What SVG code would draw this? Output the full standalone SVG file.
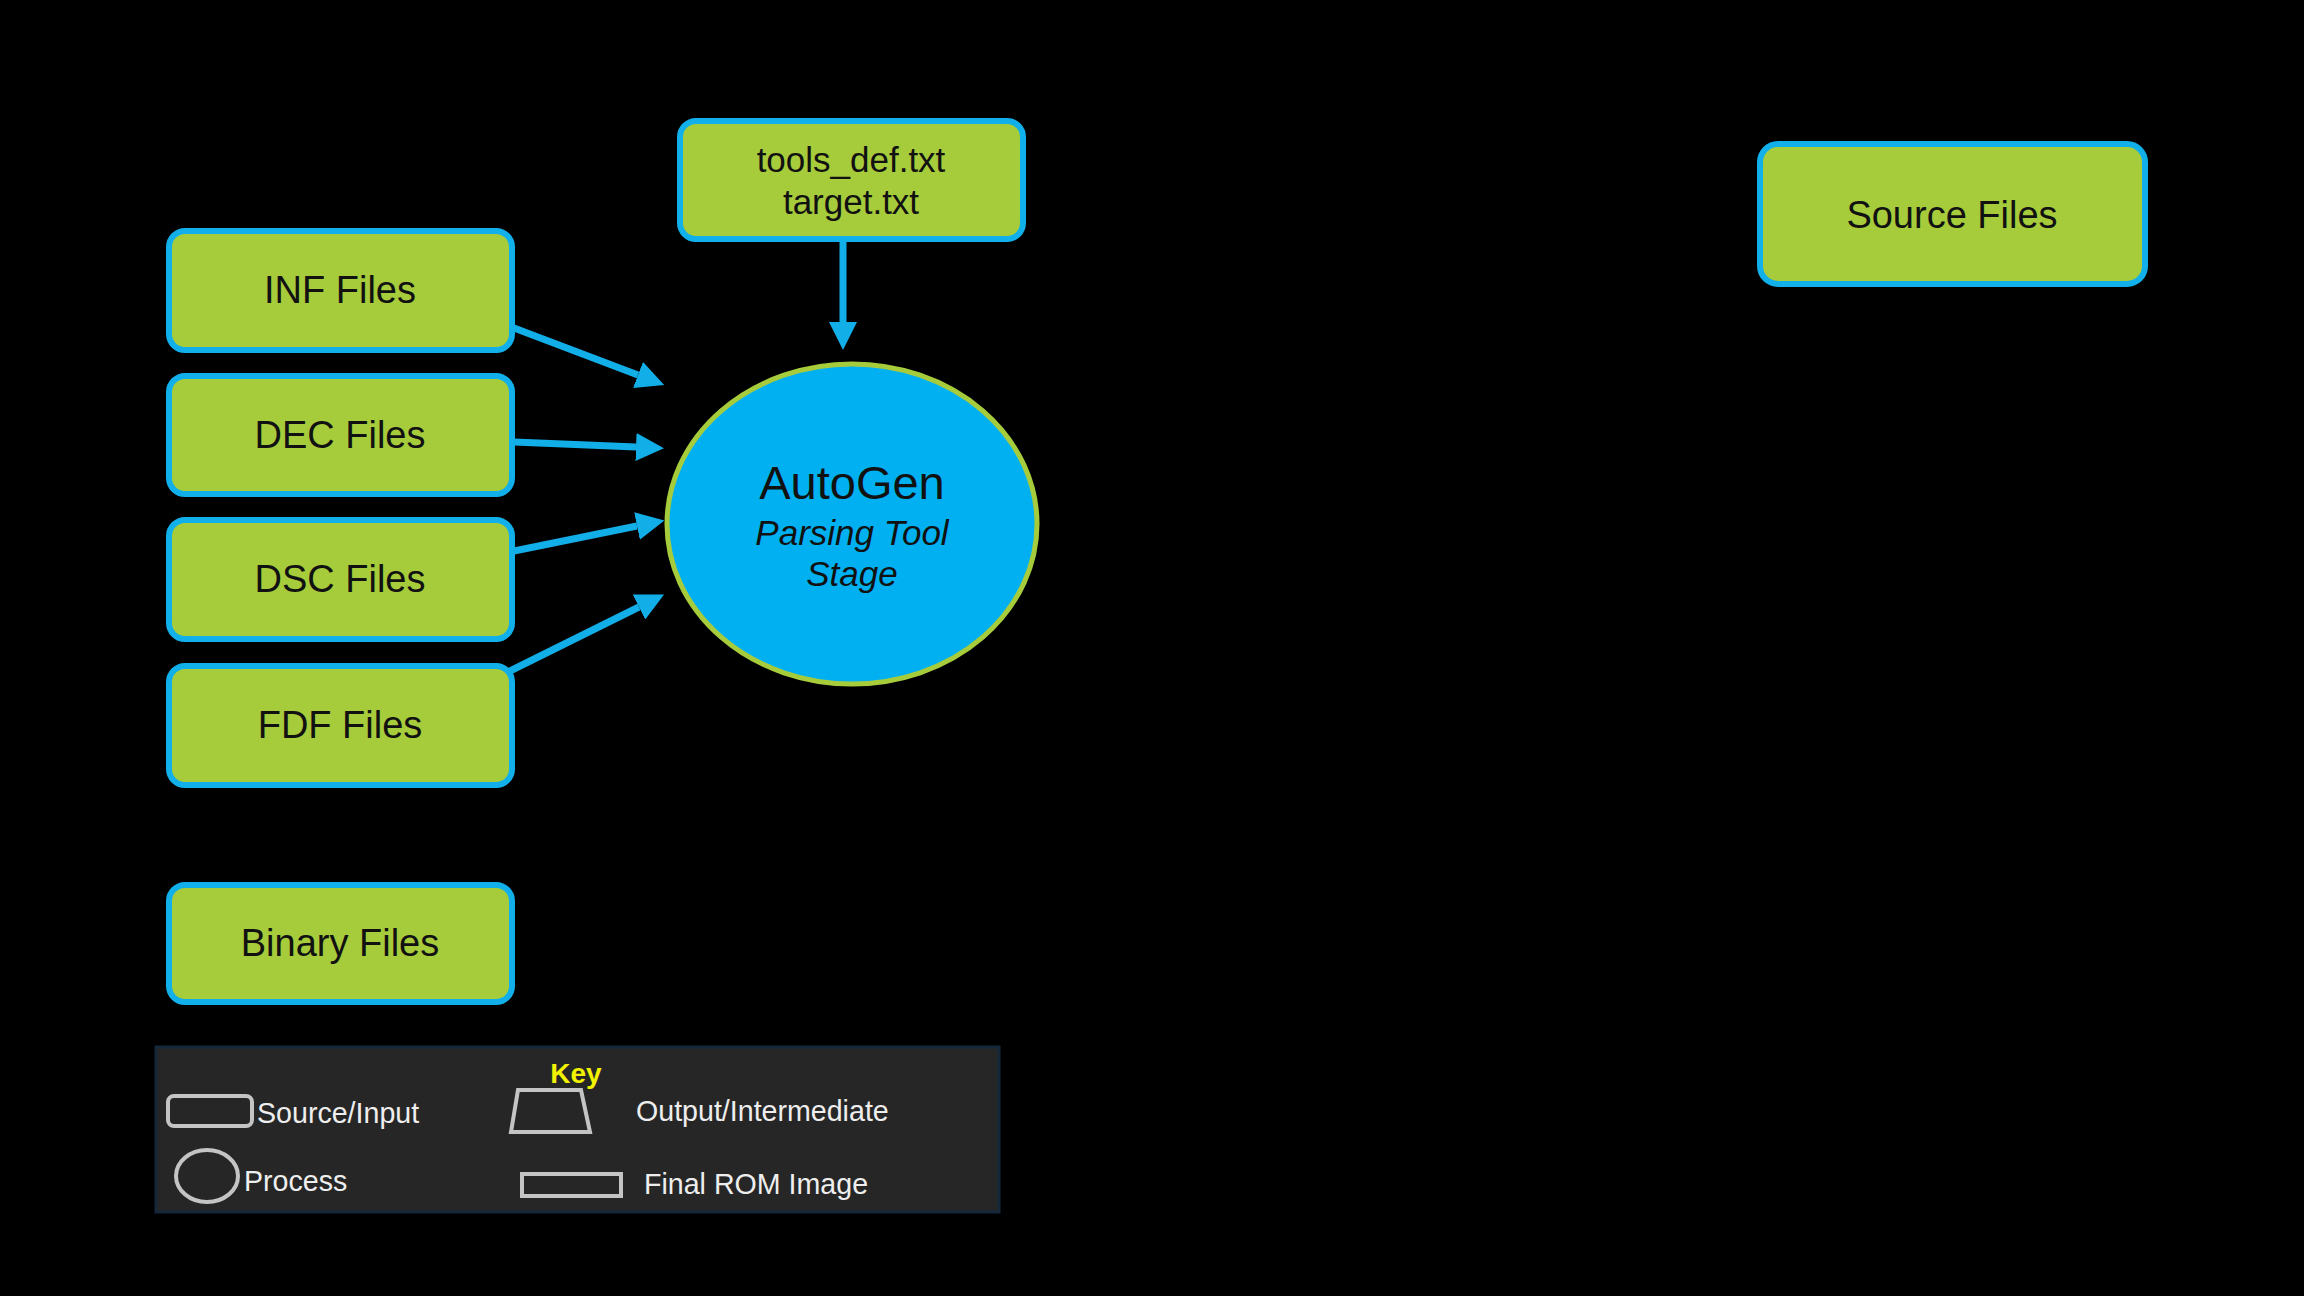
<svg xmlns="http://www.w3.org/2000/svg" width="2304" height="1296" viewBox="0 0 2304 1296">
<style>
.box{fill:#a6cb3b;stroke:#12b0ea;stroke-width:6}
.lbl{font-family:"Liberation Sans",Arial,sans-serif;font-size:38px;fill:#111;text-anchor:middle;dominant-baseline:central}
.conn{stroke:#12aee8;stroke-width:7;fill:none}
.key{font-family:"Liberation Sans",Arial,sans-serif;font-size:28.6px;fill:#eee;dominant-baseline:central}
.ks{fill:none;stroke:#c4c4c4;stroke-width:4}
</style>
<defs>
<marker id="ah" viewBox="0 0 10 10" refX="0" refY="5" markerWidth="4" markerHeight="4" orient="auto">
<path d="M0,0 L10,5 L0,10 z" fill="#12aee8"/>
</marker>
</defs>
<rect x="0" y="0" width="2304" height="1296" fill="#000"/>
<g id="tools">
<rect class="box" x="680" y="121" width="343" height="118" rx="16"/>
<text class="lbl" x="851" y="159" style="font-size:35px">tools_def.txt</text>
<text class="lbl" x="851" y="201" style="font-size:35px">target.txt</text>
</g>
<g id="inf">
<rect class="box" x="169" y="231" width="343" height="119" rx="16"/>
<text class="lbl" x="340" y="290">INF Files</text>
</g>
<g id="dec">
<rect class="box" x="169" y="376" width="343" height="118" rx="16"/>
<text class="lbl" x="340" y="435">DEC Files</text>
</g>
<g id="dsc">
<rect class="box" x="169" y="520" width="343" height="119" rx="16"/>
<text class="lbl" x="340" y="579">DSC Files</text>
</g>
<g id="fdf">
<rect class="box" x="169" y="666" width="343" height="119" rx="16"/>
<text class="lbl" x="340" y="725">FDF Files</text>
</g>
<g id="binary">
<rect class="box" x="169" y="885" width="343" height="117" rx="16"/>
<text class="lbl" x="340" y="943">Binary Files</text>
</g>
<g id="source">
<rect class="box" x="1760" y="144" width="385" height="140" rx="18"/>
<text class="lbl" x="1952" y="215">Source Files</text>
</g>
<g id="autogen">
<ellipse cx="852" cy="524" rx="185" ry="160" fill="#00b0f0" stroke="#a6cb3b" stroke-width="5"/>
<text class="lbl" x="852" y="482" style="font-size:47px">AutoGen</text>
<text class="lbl" x="852" y="532" style="font-size:35px;font-style:italic">Parsing Tool</text>
<text class="lbl" x="852" y="573" style="font-size:35px;font-style:italic">Stage</text>
</g>
<g id="connectors">
<line class="conn" x1="843" y1="242" x2="843" y2="322" marker-end="url(#ah)"/>
<line class="conn" x1="514" y1="328" x2="638" y2="375" marker-end="url(#ah)"/>
<line class="conn" x1="514" y1="442" x2="636" y2="447" marker-end="url(#ah)"/>
<line class="conn" x1="514" y1="551" x2="637" y2="526" marker-end="url(#ah)"/>
<line class="conn" x1="508" y1="672" x2="639" y2="607" marker-end="url(#ah)"/>
</g>
<g id="legend">
<rect x="156" y="1047" width="843" height="165" fill="#262626" stroke="#14283a" stroke-width="3"/>
<text x="576" y="1073" style="font-family:'Liberation Sans',Arial,sans-serif;font-size:28px;font-weight:bold;fill:#f2f200;text-anchor:middle;dominant-baseline:central">Key</text>
<rect class="ks" x="168" y="1096" width="84" height="30" rx="6"/>
<text class="key" x="257" y="1113">Source/Input</text>
<ellipse class="ks" cx="207" cy="1176" rx="31" ry="26"/>
<text class="key" x="244" y="1181">Process</text>
<polygon class="ks" points="518,1090 581,1090 590,1132 511,1132"/>
<text class="key" x="636" y="1111">Output/Intermediate</text>
<rect class="ks" x="522" y="1174" width="99" height="22"/>
<text class="key" x="644" y="1184">Final ROM Image</text>
</g>
</svg>
